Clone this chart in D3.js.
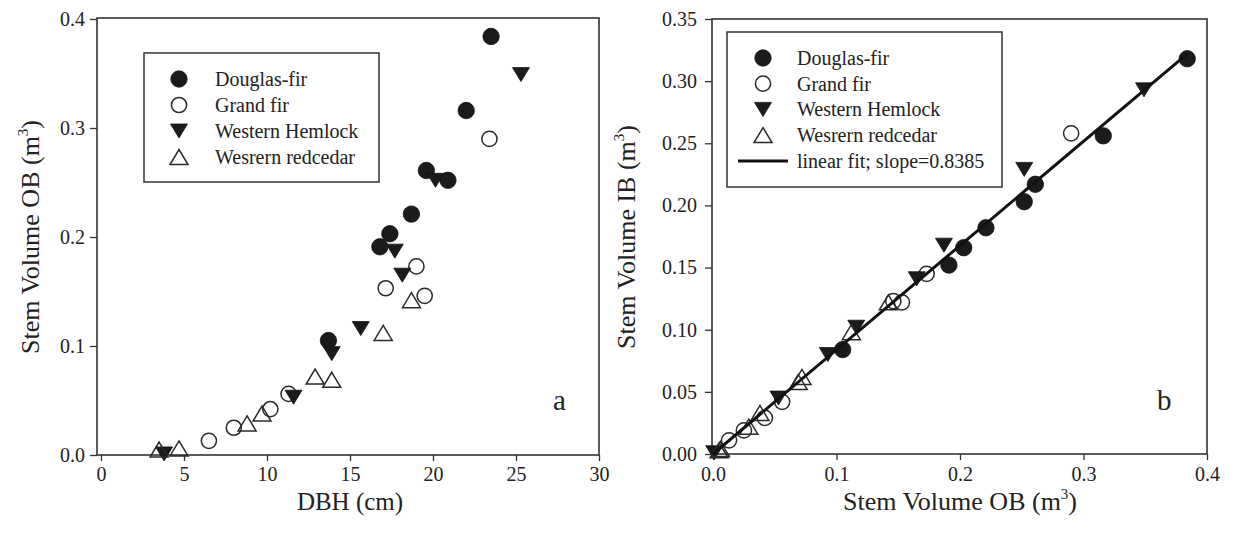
<!DOCTYPE html>
<html>
<head>
<meta charset="utf-8">
<script src="https://cdn.jsdelivr.net/npm/d3@7"></script>
<style>
  body { margin: 0; background: #fff; }
  svg { display: block; font-family: "Liberation Serif", "Times New Roman", serif; }
</style>
</head>
<body>
<svg id="chart" width="1238" height="544"></svg>
<script>
// Species names as used in the legends
const speciesNames = ["Douglas-fir", "Grand fir", "Western Hemlock", "Wesrern redcedar"];

// Diameter at breast height (cm) per tree
const dbhDouglasFir = [23.5, 22.0, 19.6, 20.9, 18.7, 17.4, 16.8, 13.7];
const dbhGrandFir   = [23.4, 19.0, 17.15, 19.5, 11.3, 10.2, 8.0, 6.5];
const dbhHemlock    = [25.3, 20.15, 17.7, 18.15, 15.65, 13.9, 11.6, 3.8];
const dbhRedcedar   = [18.7, 17.0, 12.9, 13.9, 9.7, 8.8, 3.5, 4.7];

// Stem volume outside bark (m^3)
const obDouglasFir = [0.384, 0.316, 0.261, 0.252, 0.221, 0.203, 0.191, 0.105];
const obGrandFir   = [0.290, 0.173, 0.153, 0.146, 0.056, 0.042, 0.025, 0.013];
const obHemlock    = [0.349, 0.252, 0.187, 0.165, 0.116, 0.093, 0.053, 0.001];
const obRedcedar   = [0.142, 0.112, 0.072, 0.069, 0.038, 0.029, 0.005, 0.006];

// Stem volume inside bark (m^3)
const ibDouglasFir = [0.318, 0.256, 0.217, 0.203, 0.182, 0.166, 0.152, 0.084];
const ibGrandFir   = [0.258, 0.145, 0.122, 0.123, 0.042, 0.029, 0.019, 0.011];
const ibHemlock    = [0.293, 0.229, 0.168, 0.141, 0.102, 0.080, 0.045, 0.001];
const ibRedcedar   = [0.122, 0.098, 0.062, 0.058, 0.033, 0.022, 0.003, 0.004];

// Slope of the IB-on-OB linear fit
const fitSlope = 0.8385;

// Tick values
const dbhTicks = [0, 5, 10, 15, 20, 25, 30];
const obTicksA = [0, 0.1, 0.2, 0.3, 0.4];
const obTicksB = [0, 0.1, 0.2, 0.3, 0.4];
const ibTicks  = [0, 0.05, 0.10, 0.15, 0.20, 0.25, 0.30, 0.35];

const speciesMarkers = ["dot", "ring", "down", "up"];
const dbhBySpecies = [dbhDouglasFir, dbhGrandFir, dbhHemlock, dbhRedcedar];
const obBySpecies  = [obDouglasFir, obGrandFir, obHemlock, obRedcedar];
const ibBySpecies  = [ibDouglasFir, ibGrandFir, ibHemlock, ibRedcedar];

const svg = d3.select("#chart");
const ink = "#1e1e1e";

// Draws one marker glyph centred at (x, y)
function drawMarker(g, type, x, y) {
  if (type === "dot") {
    g.append("circle").attr("cx", x).attr("cy", y).attr("r", 8.2)
      .attr("fill", "#1b1b1b").attr("stroke", "#111").attr("stroke-width", 0.8);
  } else if (type === "ring") {
    g.append("circle").attr("cx", x).attr("cy", y).attr("r", 7.6)
      .attr("fill", "none").attr("stroke", "#2a2a2a").attr("stroke-width", 1.5);
  } else if (type === "down") {
    const w = 17, h = 14;
    g.append("path")
      .attr("d", `M${x - w / 2},${y - h / 2}L${x + w / 2},${y - h / 2}L${x},${y + h / 2}Z`)
      .attr("fill", "#1b1b1b").attr("stroke", "#111").attr("stroke-width", 0.8);
  } else {
    const w = 18, h = 15;
    g.append("path")
      .attr("d", `M${x},${y - h / 2}L${x + w / 2},${y + h / 2}L${x - w / 2},${y + h / 2}Z`)
      .attr("fill", "none").attr("stroke", "#2a2a2a").attr("stroke-width", 1.5)
      .attr("stroke-linejoin", "miter");
  }
}

function styleAxis(g) {
  g.select(".domain").remove();
  g.selectAll(".tick line").attr("stroke", "#333").attr("stroke-width", 1.3);
  g.selectAll(".tick text").attr("fill", "#222").attr("font-size", 20)
    .attr("font-family", "Liberation Serif, Times New Roman, serif");
}

function frame(x0, y0, x1, y1) {
  svg.append("rect").attr("x", x0).attr("y", y0)
    .attr("width", x1 - x0).attr("height", y1 - y0)
    .attr("fill", "none").attr("stroke", "#333").attr("stroke-width", 1.6);
}

function volumeTitle(g, label) {
  const t = g.append("text").attr("font-size", 26).attr("fill", "#222")
    .attr("text-anchor", "middle");
  t.append("tspan").text(label + " (m");
  t.append("tspan").text("3").attr("font-size", 15).attr("dy", -11);
  t.append("tspan").text(")").attr("dy", 11);
  return t;
}

// ---------- Panel a: volume outside bark vs DBH ----------
const xA = d3.scaleLinear().domain([0, 30]).range([101, 599]);
const yA = d3.scaleLinear().domain([0, 0.4]).range([455, 19]);

frame(97, 18, 599, 455);

svg.append("g").attr("transform", "translate(97,0)")
  .call(d3.axisLeft(yA).tickValues(obTicksA).tickFormat(d3.format(".1f"))
    .tickSize(7).tickSizeOuter(0).tickPadding(5))
  .call(styleAxis);

svg.append("g").attr("transform", "translate(0,455)")
  .call(d3.axisBottom(xA).tickValues(dbhTicks).tickFormat(d3.format("d"))
    .tickSize(6).tickSizeOuter(0).tickPadding(6))
  .call(styleAxis);

const ptsA = svg.append("g");
speciesMarkers.forEach((m, s) => {
  dbhBySpecies[s].forEach((d, i) => drawMarker(ptsA, m, xA(d), yA(obBySpecies[s][i])));
});

// Legend a
svg.append("rect").attr("x", 144).attr("y", 53).attr("width", 235).attr("height", 129)
  .attr("fill", "#fff").attr("stroke", "#333").attr("stroke-width", 1.5);
const legA = svg.append("g");
speciesNames.forEach((name, s) => {
  const cy = 79 + s * 26;
  drawMarker(legA, speciesMarkers[s], 179, cy);
  legA.append("text").attr("x", 215).attr("y", cy + 7).attr("font-size", 20)
    .attr("fill", "#222").text(name);
});

svg.append("text").attr("x", 553).attr("y", 410).attr("font-size", 29)
  .attr("fill", "#222").text("a");

svg.append("text").attr("x", 350).attr("y", 510).attr("font-size", 25)
  .attr("fill", "#222").attr("text-anchor", "middle").text("DBH (cm)");
volumeTitle(svg.append("g").attr("transform", "translate(39,237) rotate(-90)"), "Stem Volume OB");

// ---------- Panel b: inside bark vs outside bark volume ----------
const xB = d3.scaleLinear().domain([0, 0.4]).range([713, 1207]);
const yB = d3.scaleLinear().domain([0, 0.35]).range([454, 19]);

frame(712, 19, 1207, 454);

svg.append("g").attr("transform", "translate(712,0)")
  .call(d3.axisLeft(yB).tickValues(ibTicks).tickFormat(d3.format(".2f"))
    .tickSize(7).tickSizeOuter(0).tickPadding(8))
  .call(styleAxis);

svg.append("g").attr("transform", "translate(0,454)")
  .call(d3.axisBottom(xB).tickValues(obTicksB).tickFormat(d3.format(".1f"))
    .tickSize(6).tickSizeOuter(0).tickPadding(7))
  .call(styleAxis);

const ptsB = svg.append("g");
speciesMarkers.forEach((m, s) => {
  obBySpecies[s].forEach((d, i) => drawMarker(ptsB, m, xB(d), yB(ibBySpecies[s][i])));
});

// Fitted line through the origin over the observed OB range
const obAll = obBySpecies.flat();
const fitX = [0, d3.max(obAll)];
svg.append("path")
  .attr("d", d3.line().x(d => xB(d)).y(d => yB(d * fitSlope))(fitX))
  .attr("stroke", "#111").attr("stroke-width", 3).attr("fill", "none");

// Legend b
svg.append("rect").attr("x", 727).attr("y", 32).attr("width", 275).attr("height", 155)
  .attr("fill", "#fff").attr("stroke", "#333").attr("stroke-width", 1.5);
const legB = svg.append("g");
speciesNames.forEach((name, s) => {
  const cy = 58 + s * 25.7;
  drawMarker(legB, speciesMarkers[s], 763, cy);
  legB.append("text").attr("x", 797).attr("y", cy + 7).attr("font-size", 20)
    .attr("fill", "#222").text(name);
});
legB.append("line").attr("x1", 738).attr("x2", 788).attr("y1", 161).attr("y2", 161)
  .attr("stroke", "#111").attr("stroke-width", 3);
legB.append("text").attr("x", 797).attr("y", 168).attr("font-size", 20)
  .attr("fill", "#222").text("linear fit; slope=" + fitSlope);

svg.append("text").attr("x", 1157).attr("y", 410).attr("font-size", 29)
  .attr("fill", "#222").text("b");

volumeTitle(svg.append("g").attr("transform", "translate(960,510)"), "Stem Volume OB");
volumeTitle(svg.append("g").attr("transform", "translate(635,237) rotate(-90)"), "Stem Volume IB");
</script>
</body>
</html>
